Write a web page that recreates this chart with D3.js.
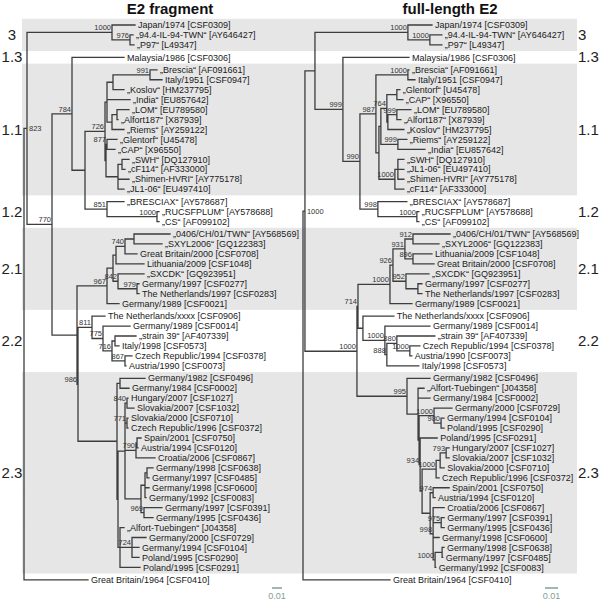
<!DOCTYPE html>
<html><head><meta charset="utf-8">
<script src="https://cdn.jsdelivr.net/npm/d3@7"></script>
<style>body{margin:0;background:#fff}</style></head>
<body><svg id="c" width="600" height="600"></svg>
<script>
// ---------------- DATA ----------------
const panelTitles = ["E2 fragment", "full-length E2"];
const groupNames = ["3", "1.3", "1.1", "1.2", "2.1", "2.2", "2.3"];
const scaleBarValue = 0.01;

// [accession, isolate name, genotype group]
const isolates = [
  ["CSF0309","Japan/1974","3"],["AY646427","„94.4-IL-94-TWN“","3"],["L49347","„P97“","3"],
  ["CSF0306","Malaysia/1986","1.3"],
  ["AF091661","„Brescia“","1.1"],["CSF0947","Italy/1951","1.1"],["HM237795","„Koslov“","1.1"],
  ["EU857642","„India“","1.1"],["EU789580","„LOM“","1.1"],["X87939","„Alfort187“","1.1"],
  ["AY259122","„Riems“","1.1"],["U45478","„Glentorf“","1.1"],["X96550","„CAP“","1.1"],
  ["DQ127910","„SWH“","1.1"],["AF333000","„cF114“","1.1"],["AY775178","„Shimen-HVRI“","1.1"],
  ["EU497410","„JL1-06“","1.1"],
  ["AY578687","„BRESCIAX“","1.2"],["AY578688","„RUCSFPLUM“","1.2"],["AF099102","„CS“","1.2"],
  ["AY568569","„0406/CH/01/TWN“","2.1"],["GQ122383","„SXYL2006“","2.1"],["CSF0708","Great Britain/2000","2.1"],
  ["CSF1048","Lithuania/2009","2.1"],["GQ923951","„SXCDK“","2.1"],["CSF0277","Germany/1997","2.1"],
  ["CSF0283","The Netherlands/1997","2.1"],["CSF0021","Germany/1989","2.1"],
  ["CSF0906","The Netherlands/xxxx","2.2"],["CSF0014","Germany/1989","2.2"],["AF407339","„strain 39“","2.2"],
  ["CSF0573","Italy/1998","2.2"],["CSF0378","Czech Republic/1994","2.2"],["CSF0073","Austria/1990","2.2"],
  ["CSF0496","Germany/1982","2.3"],["CSF0002","Germany/1984","2.3"],["CSF1027","Hungary/2007","2.3"],
  ["CSF1032","Slovakia/2007","2.3"],["CSF0710","Slovakia/2000","2.3"],["CSF0372","Czech Republic/1996","2.3"],
  ["CSF0750","Spain/2001","2.3"],["CSF0120","Austria/1994","2.3"],["CSF0867","Croatia/2006","2.3"],
  ["CSF0638","Germany/1998","2.3"],["CSF0485","Germany/1997","2.3"],["CSF0600","Germany/1998","2.3"],
  ["CSF0083","Germany/1992","2.3"],["CSF0391","Germany/1997","2.3"],["CSF0436","Germany/1995","2.3"],
  ["J04358","„Alfort-Tuebingen“","2.3"],["CSF0729","Germany/2000","2.3"],["CSF0104","Germany/1994","2.3"],
  ["CSF0290","Poland/1995","2.3"],["CSF0291","Poland/1995","2.3"],
  ["CSF0410","Great Britain/1964",null]
];

// E2 fragment tree (Newick clades, branch lengths in substitutions/site, bootstrap as node labels)
const fragG3  = "(CSF0309:0.023,(AY646427:0.003,L49347:0.004)976:0.018)1000:0.085";
const fragG11 = "((((AF091661:0.007,CSF0947:0.012)991:0.037,HM237795:0.011):0.006,EU857642:0.023,((EU789580:0.012,X87939:0.001):0.005,AY259122:0.012):0.005):0.002,((U45478:0.010,X96550:0.008)877:0.001,((DQ127910:0.007,AF333000:0.003):0.004,AY775178:0.011,EU497410:0.006):0.012):0.001)726:0.020";
const fragG12 = "(AY578687:0.017,(AY578688:0.002,AF099102:0.002)1000:0.050)851:0.022";
const fragG21 = "(((((AY568569:0.036,GQ122383:0.028):0.009,CSF0708:0.012)740:0.009,CSF1048:0.028):0.003,(GQ923951:0.026,(CSF0277:0.002,CSF0283:0.002)979:0.019)842:0.005):0.006,CSF0021:0.012)967:0.030";
const fragG22 = "(CSF0906:0.013,(CSF0014:0.027,((AF407339:0.021,CSF0573:0.004):0.003,(CSF0378:0.007,CSF0073:0.001)867:0.013)716:0.009)775:0.011)811:0.014";
const fragG23 = "((CSF0496:0.025,CSF0002:0.009):0.003,(((CSF1027:0.001,CSF1032:0.007)840:0.002,(CSF0710:0.001,CSF0372:0.001)771:0.002,((CSF0750:0.004,CSF0120:0.001):0.001,CSF0867:0.019)790:0.011,(((CSF0638:0.006,CSF0485:0.002):0.002,CSF0600:0.004,CSF0083:0.001):0.004,(CSF0391:0.018,CSF0436:0.009)969:0.003):0.016):0.007,(J04358:0.004,(CSF0729:0.014,CSF0104:0.007,CSF0290:0.007)724:0.012,CSF0291:0.020):0.002):0.001):0.039";
const treeFragment = `((${fragG3},((CSF0306:0.052,(${fragG11},${fragG12}):0.013)784:0.020,(${fragG21},(${fragG22},${fragG23})986:0.001):0.025)770:0.025)823:0.003,CSF0410:0.064);`;

// full-length E2 tree
const fullG3  = "(CSF0309:0.0185,(AY646427:0.0092,L49347:0.0092)1000:0.0169)1000:0.0715";
const fullG11 = "((AF091661:0.0008,CSF0947:0.0054)1000:0.0246,((((U45478:0.0023,X96550:0.0046):0.0077,((EU789580:0.0108,X87939:0.0031)999:0.0069,HM237795:0.0123):0.0008)764:0.0046,(AY259122:0.0069,EU857642:0.0208)999:0.0131):0.0015,((DQ127910:0.0046,EU497410:0.0046,AY775178:0.0046):0.0023,AF333000:0.0069)1000:0.0123):0.0023)987:0.0123";
const fullG12 = "(AY578687:0.0223,(AY578688:0.0015,AF099102:0.0015)1000:0.03)998:0.0138";
const fullG21 = "((((AY568569:0.0285,GQ122383:0.02)912:0.0062,(CSF1048:0.0146,CSF0708:0.0162)896:0.0062)931:0.0092,(GQ923951:0.0177,(CSF0277:0.0031,CSF0283:0.0031):0.0092)952:0.01)926:0.0023,CSF0021:0.0169)1000:0.0246";
const fullG22 = "(CSF0906:0.0238,(CSF0014:0.0346,((AF407339:0.0292,(CSF0378:0.0077,CSF0073:0.0015)1000:0.01)880:0.0077,CSF0573:0.0246)888:0.0015)1000:0.0169):0.0038";
const fullG23a = "(CSF0729:0.0138,(CSF0104:0.0023,CSF0290:0.0023)980:0.0054)1000:0.0115";
const fullG23b = "(((CSF1027:0.0023,CSF1032:0.0023)793:0.0046,CSF0710:0.0031):0.0031,CSF0372:0.0023)1000:0.0108";
const fullG23c = "((CSF0750:0.0123,CSF0120:0.0015)974:0.0023,(CSF0867:0.0085,(CSF0391:0.0023,CSF0436:0.0023)975:0.0062,CSF0600:0.0046,((CSF0638:0.0015,CSF0485:0.0005):0.0054,CSF0083:0.0005)1000:0.0015)998:0.0023):0.0062";
const fullG23 = `(CSF0496:0.0177,(J04358:0.0046,CSF0002:0.0092,(${fullG23a},(CSF0291:0.0131,(${fullG23b},${fullG23c}):0.0015)934:0.0008):0.0008):0.0085)995:0.0385`;
const treeFull = `(((${fullG3},(CSF0306:0.0508,(${fullG11},${fullG12})990:0.0131)999:0.0215):0.0077,((${fullG21},${fullG22})714:0.0008,${fullG23})1000:0.04)1000:0.0015,CSF0410:0.0669);`;

// ---------------- DRAWING ----------------
const FONT = "'Liberation Sans', Arial, Helvetica, sans-serif";
const svg = d3.select("#c");
const info = new Map(isolates.map(d => [d[0], {name: d[1], group: d[2]}]));

function parseNewick(str) {
  let i = 0;
  function node() {
    const n = {children: []};
    if (str[i] === "(") {
      i++;
      n.children.push(node());
      while (str[i] === ",") { i++; n.children.push(node()); }
      i++;
    }
    let name = "";
    while (i < str.length && !":,);".includes(str[i])) name += str[i++];
    n.name = name;
    n.length = 0;
    if (str[i] === ":") {
      i++; let num = "";
      while (i < str.length && !",);".includes(str[i])) num += str[i++];
      n.length = +num;
    }
    if (!n.children.length) delete n.children;
    return n;
  }
  return node();
}

const rowScale = d3.scaleLinear().domain([0, isolates.length - 1]).range([25, 562.3]);
const groupGap = 2.5;
const groupIndex = g => g === null ? groupNames.length : groupNames.indexOf(g);

function layout(newick, xScale) {
  const root = d3.hierarchy(parseNewick(newick));
  root.each(n => { n.dist = n.parent ? n.parent.dist + n.data.length : 0; n.px = xScale(n.dist); });
  root.leaves().forEach((l, i) => {
    l.py = rowScale(i) + groupIndex(info.get(l.data.name).group) * groupGap;
  });
  root.eachAfter(n => {
    if (n.children) n.py = (n.children[0].py + n.children[n.children.length - 1].py) / 2;
  });
  return root;
}

const xLeft = d3.scaleLinear().domain([0, 0.1]).range([24, 124]);
const xRight = d3.scaleLinear().domain([0, 0.1]).range([303, 433]);
const leftRoot = layout(treeFragment, xLeft);
const rightRoot = layout(treeFull, xRight);

// group bands
const bandG = svg.append("g");
const leftLeaves = leftRoot.leaves();
groupNames.forEach((g, gi) => {
  const ys = leftLeaves.filter(l => info.get(l.data.name).group === g).map(l => l.py);
  const top = d3.min(ys) - 6.2, bot = d3.max(ys) + 6.2;
  if (gi % 2 === 0) {
    bandG.append("rect").attr("x", 22).attr("y", top).attr("width", 555).attr("height", bot - top)
      .attr("fill", "#e6e6e6");
  }
  const cy = (top + bot) / 2 + 5;
  bandG.append("text").attr("x", 12).attr("y", cy).attr("text-anchor", "middle")
    .attr("font-family", FONT).attr("font-size", 15).attr("fill", "#222").text(g);
  bandG.append("text").attr("x", 578).attr("y", cy).attr("text-anchor", "start")
    .attr("font-family", FONT).attr("font-size", 15).attr("fill", "#222").text(g);
});

function drawTree(root, xScale, title, titleX, barX) {
  const g = svg.append("g");
  let d = "";
  root.descendants().forEach(n => {
    if (n.parent) d += `M${n.parent.px},${n.py}H${n.px}`;
    if (n.children) d += `M${n.px},${n.children[0].py}V${n.children[n.children.length - 1].py}`;
  });
  g.append("path").attr("d", d).attr("fill", "none").attr("stroke", "#3d3d3d")
    .attr("stroke-width", 1.3).attr("stroke-linecap", "square");

  g.selectAll("text.leaf").data(root.leaves()).join("text").attr("class", "leaf")
    .attr("x", n => n.px + 3).attr("y", n => n.py).attr("dy", "0.35em")
    .attr("font-family", FONT).attr("font-size", 9).attr("fill", "#1a1a1a")
    .text(n => `${info.get(n.data.name).name} [${n.data.name}]`);

  const inner = root.descendants().filter(n => n.children && n.data.name);
  const rootX = root.px;
  inner.forEach(n => {
    const w = n.data.name.length * 4.2;
    const t = g.append("text").attr("font-family", FONT).attr("font-size", 7.5).attr("fill", "#333")
      .text(n.data.name);
    if (n.px - w - 1 < rootX) {
      t.attr("x", n.px + 2).attr("y", n.py + 2.6);
    } else {
      t.attr("x", n.px - 1).attr("y", n.py - 2).attr("text-anchor", "end");
    }
  });

  svg.append("text").attr("x", titleX).attr("y", 14).attr("text-anchor", "middle")
    .attr("font-family", FONT).attr("font-size", 15).attr("font-weight", "bold").attr("fill", "#111")
    .text(title);

  const barLen = xScale(scaleBarValue) - xScale(0);
  svg.append("line").attr("x1", barX).attr("x2", barX + barLen).attr("y1", 588).attr("y2", 588)
    .attr("stroke", "#7fa096").attr("stroke-width", 1.5);
  svg.append("text").attr("x", barX + barLen / 2).attr("y", 599).attr("text-anchor", "middle")
    .attr("font-family", FONT).attr("font-size", 9).attr("fill", "#7fa096").text(String(scaleBarValue));
}

drawTree(leftRoot, xLeft, panelTitles[0], 170, 272);
drawTree(rightRoot, xRight, panelTitles[1], 450, 545);
</script>
</body></html>
